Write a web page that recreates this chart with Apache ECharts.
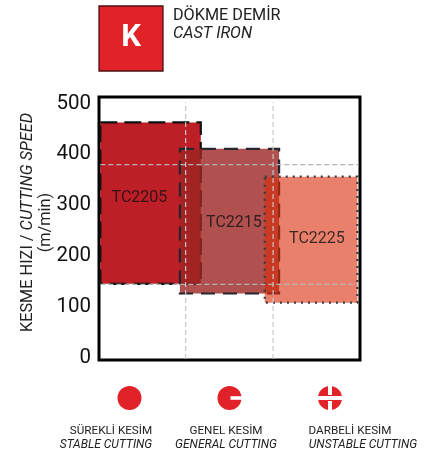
<!DOCTYPE html>
<html><head><meta charset="utf-8">
<style>html,body{margin:0;padding:0;background:#fff}#c{width:436px;height:455px}</style>
<script src="https://cdn.jsdelivr.net/npm/echarts@6/dist/echarts.min.js"></script>
</head><body><div id="c"></div>
<script>
const grades = ['TC2205','TC2215','TC2225'];
const speedLow = [142,123,105];
const speedHigh = [460,408,353];
const posStart = [0.5,31,63.5];
const posEnd = [39,69,99];
const labelPos = [15.5,51.7,83.5];
const labelSpeed = [311,262,230];
const yTicks = [0,100,200,300,400,500];
const guideSpeeds = [377,141];
const guidePositions = [33.2,66.7];
const fills = ['#be1e26','rgba(156,36,35,0.8)','rgba(218,43,10,0.6)'];
const strokes = ['#111','#26262c','#3a3a44'];
const dashes = [[17,7],[14,8],[2,5]];
const red = '#e12229';
const font = 'Roboto';

function rectSeries(i){
  return {type:'custom',coordinateSystem:'cartesian2d',z:3+i,
    data:[[posStart[i],speedLow[i],posEnd[i],speedHigh[i]]],
    encode:{x:[0,2],y:[1,3]},
    renderItem(p,api){
      const a=api.coord([api.value(0),api.value(3)]);
      const b=api.coord([api.value(2),api.value(1)]);
      return {type:'rect',shape:{x:a[0],y:a[1],width:b[0]-a[0],height:b[1]-a[1]},
         style:{fill:fills[i],stroke:strokes[i],lineWidth:2.2,lineDash:dashes[i]}};
    }};
}
function labelSeries(){
  return {type:'scatter',z:9,symbolSize:0,silent:true,
    data:grades.map((g,i)=>({value:[labelPos[i],labelSpeed[i]],name:g})),
    label:{show:true,position:'inside',formatter:'{b}',fontFamily:font,fontSize:16,color:'#111'}};
}
function guide(data,color){
  return {type:'line',z:8,symbol:'none',silent:true,data,
    lineStyle:{color,width:1.2,type:[5,3]}};
}
const chart = echarts.init(document.getElementById('c'),null,{renderer:'canvas'});
function icon(cx,cy,kind){
  const r=12, out=[{type:'circle',shape:{cx,cy,r},style:{fill:red}}];
  const w={fill:'#fff'};
  if(kind===1) out.push({type:'rect',shape:{x:cx+1,y:cy-1.8,width:13,height:3.6},style:w});
  if(kind===2){
    out.push({type:'rect',shape:{x:cx-13,y:cy-2,width:26,height:4},style:w});
    out.push({type:'rect',shape:{x:cx-2,y:cy-13,width:4,height:10},style:w});
    out.push({type:'rect',shape:{x:cx-2,y:cy+3,width:4,height:10},style:w});
  }
  return out;
}
function txt(x,y,text,opt){
  return {type:'text',x,y,style:Object.assign({text,fontFamily:font,fontSize:11.7,fill:'#222',textAlign:'center',textVerticalAlign:'middle'},opt||{})};
}
const ital={fontStyle:'italic',fontSize:12};
chart.setOption({
  animation:false,
  grid:{left:99,top:97,width:261,height:263,show:true,backgroundColor:'#fff',borderColor:'#000',borderWidth:3},
  xAxis:{type:'value',min:0,max:100,show:false},
  yAxis:{type:'value',min:-8,max:510,
    axisLine:{show:false},axisTick:{show:false},splitLine:{show:false},
    axisLabel:{customValues:yTicks,margin:8,formatter:'{v|{value}}',
      rich:{v:{fontFamily:font,fontSize:20.5,color:'#111',padding:[3,0,0,0]}}},
    name:'{a|KESME HIZI / }{b|CUTTING SPEED}\n{a|(m/min)}',
    nameLocation:'middle',nameRotate:90,nameGap:44,nameMoveOverlap:false,
    nameTextStyle:{padding:[0,0,0,12],rich:{a:{fontFamily:font,fontSize:16.3,color:'#222',lineHeight:18},b:{fontFamily:font,fontSize:16.3,fontStyle:'italic',color:'#222',lineHeight:18}}}
  },
  series:[rectSeries(0),rectSeries(1),rectSeries(2),labelSeries(),
    guide([[0.5,guideSpeeds[0]],[99.5,guideSpeeds[0]]],'#b4b4b4'),
    guide([[0.5,guideSpeeds[1]],[99.5,guideSpeeds[1]]],'#b4b4b4'),
    guide([[guidePositions[0],-6],[guidePositions[0],500]],'#c8c8c8'),
    guide([[guidePositions[1],-6],[guidePositions[1],500]],'#c8c8c8')
  ],
  graphic:{elements:[
    {type:'rect',shape:{x:99,y:6,width:64,height:65},style:{fill:red,stroke:'#4a1214',lineWidth:1.3}},
    txt(131,38.5,'K',{fontSize:31,fontWeight:'bold',fill:'#fff'}),
    txt(173,16,'DÖKME DEMİR',{textAlign:'left',fontSize:16.2}),
    txt(173,33.5,'CAST IRON',{textAlign:'left',fontSize:16.2,fontStyle:'italic'}),
    ...icon(129.5,398,0),...icon(229.5,398,1),...icon(330,398,2),
    txt(111,431,'SÜREKLİ KESİM'),
    txt(106,445,'STABLE CUTTING',ital),
    txt(226,431,'GENEL KESİM'),
    txt(226,445,'GENERAL CUTTING',ital),
    txt(350,431,'DARBELİ KESİM'),
    txt(363,445,'UNSTABLE CUTTING',ital)
  ]}
});
</script></body></html>
